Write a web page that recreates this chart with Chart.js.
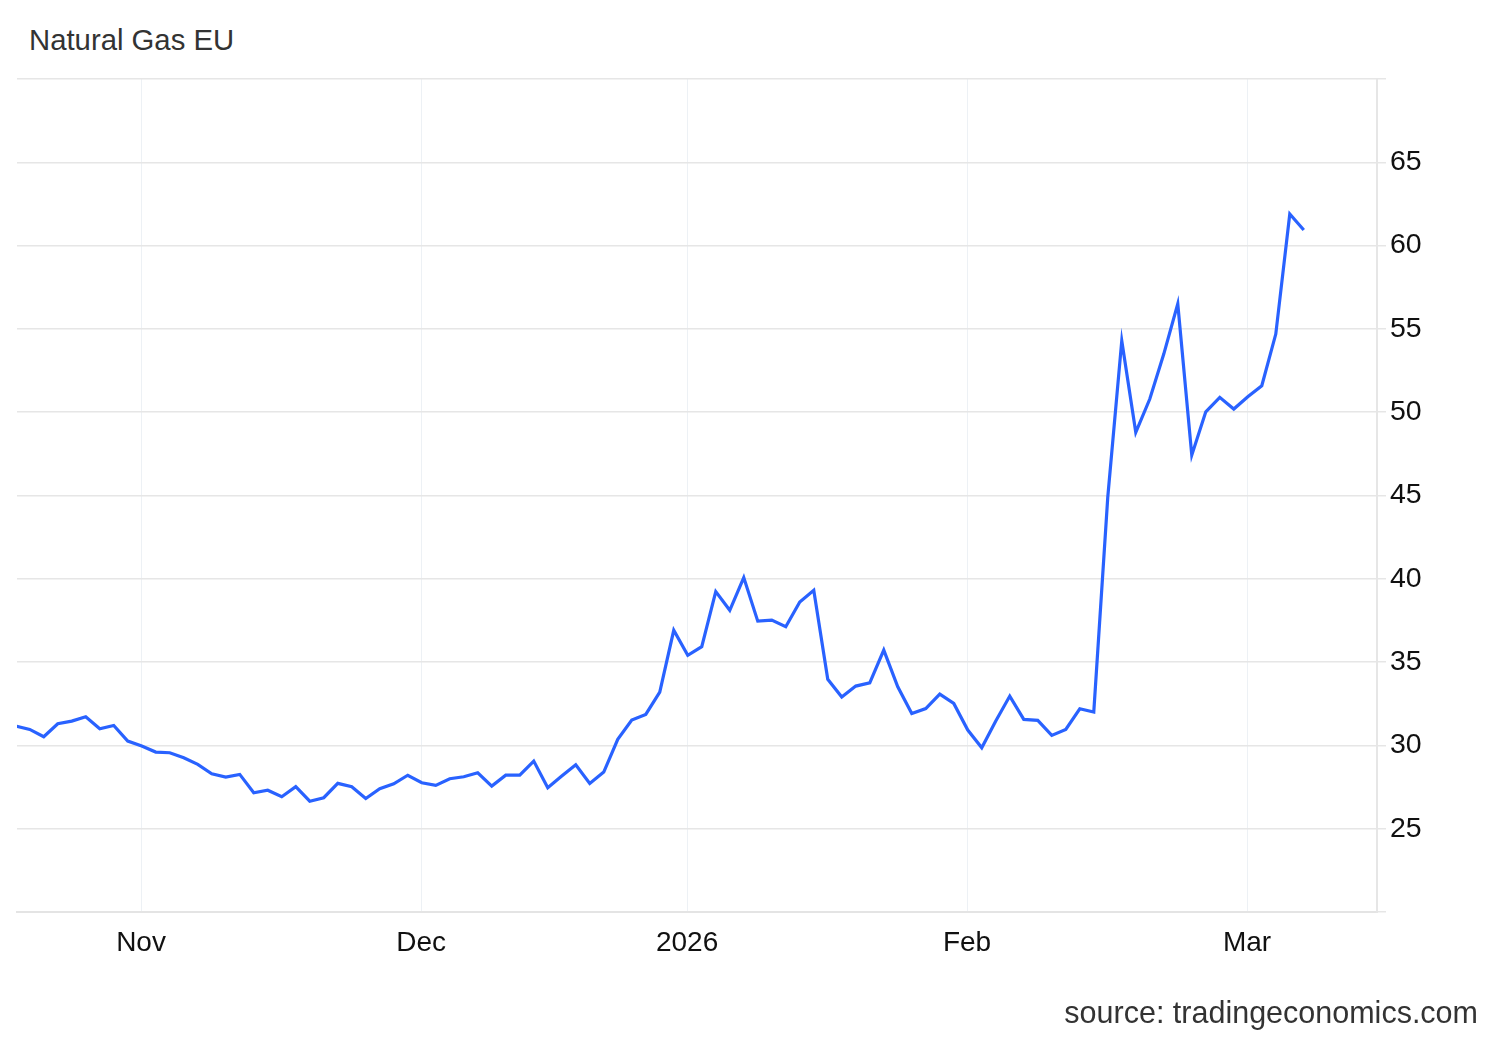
<!DOCTYPE html>
<html>
<head>
<meta charset="utf-8">
<title>Natural Gas EU</title>
<script src="https://cdn.jsdelivr.net/npm/chart.js@4.4.1/dist/chart.umd.min.js"></script>
<style>
  html, body { margin:0; padding:0; background:#fff; }
  body { width:1500px; height:1040px; position:relative; overflow:hidden; font-family:"Liberation Sans", Arial, Helvetica, sans-serif; }
  #title { position:absolute; left:29px; top:25px; font-size:29.3px; line-height:29px; color:#333; white-space:nowrap; }
  #source { position:absolute; right:22px; top:997px; font-size:30.5px; line-height:30px; color:#333; white-space:nowrap; }
  #chart { position:absolute; left:0; top:0; }
</style>
</head>
<body>
<div id="title">Natural Gas EU</div>
<canvas id="chart" width="1500" height="1040"></canvas>
<div id="source">source: tradingeconomics.com</div>

<script>
// daily settle prices (EUR/MWh), one per trading day, mid Oct -> early Mar
const prices = [
  31.16, 30.96, 30.52, 31.30, 31.46, 31.72, 31.00, 31.20, 30.26, 29.96,
  29.60, 29.56, 29.26, 28.86, 28.30, 28.10, 28.26, 27.16, 27.31, 26.92,
  27.52, 26.65, 26.86, 27.72, 27.52, 26.81, 27.40, 27.69, 28.21, 27.76,
  27.60, 28.00, 28.12, 28.36, 27.56, 28.21, 28.21, 29.06, 27.46, 28.16,
  28.84, 27.72, 28.40, 30.36, 31.52, 31.86, 33.20, 36.91, 35.41, 35.93,
  39.23, 38.11, 40.07, 37.46, 37.52, 37.12, 38.61, 39.31, 33.97, 32.90,
  33.56, 33.76, 35.72, 33.52, 31.91, 32.21, 33.08, 32.52, 30.92, 29.86,
  31.46, 32.96, 31.56, 31.50, 30.60, 30.96, 32.20, 32.00, 44.90, 54.29,
  48.79, 50.79, 53.49, 56.50, 47.42, 50.02, 50.89, 50.19, 50.93, 51.59,
  54.69, 61.90, 60.94
];

// month boundaries, in trading-day index units
const monthLabels = ["Nov", "Dec", "2026", "Feb", "Mar"];
const monthTicks = [8.95, 28.95, 47.95, 67.95, 87.95];

// price axis
const yTicksShown = [25, 30, 35, 40, 45, 50, 55, 60, 65];

const FONT = "'Liberation Sans', Arial, Helvetica, sans-serif";

new Chart(document.getElementById("chart"), {
  type: "line",
  data: {
    datasets: [{
      label: "Natural Gas EU",
      data: prices.map((v, i) => ({ x: i, y: v })),
      borderColor: "#2962ff",
      borderWidth: 3.2,
      pointRadius: 0,
      tension: 0,
      fill: false
    }]
  },
  options: {
    responsive: false,
    animation: false,
    layout: { padding: { left: 17, top: 79, right: 0, bottom: 0 } },
    plugins: { legend: { display: false }, tooltip: { enabled: false } },
    scales: {
      x: {
        type: "linear",
        min: 0.09,
        max: 97.23,
        afterBuildTicks: axis => { axis.ticks = monthTicks.map(v => ({ value: v })); },
        afterFit: scale => { scale.height = 128; },
        grid: { color: "#edf1f5", lineWidth: 1, drawTicks: false },
        border: { color: "#e4e4e4", width: 2 },
        ticks: {
          autoSkip: false,
          maxRotation: 0,
          padding: 14,
          color: "#111",
          font: { family: FONT, size: 28 },
          callback: (v, i) => monthLabels[i]
        }
      },
      y: {
        position: "right",
        min: 20,
        max: 70,
        afterFit: scale => { scale.width = 123; },
        grid: { color: "#e6e6e6", lineWidth: 1.5, tickLength: 9 },
        border: { color: "#e6e6e6", width: 2 },
        ticks: {
          stepSize: 5,
          padding: 4,
          color: "#111",
          font: { family: FONT, size: 28.5 },
          callback: v => yTicksShown.includes(v) ? v : ""
        }
      }
    }
  }
});
</script>
</body>
</html>
